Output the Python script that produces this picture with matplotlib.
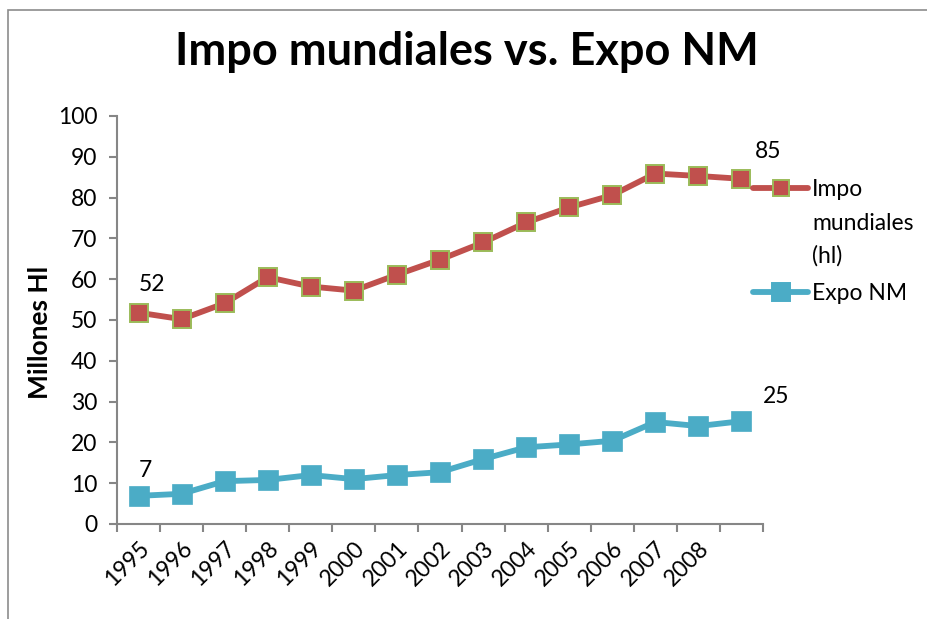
import matplotlib
matplotlib.use("Agg")
import matplotlib.pyplot as plt
from matplotlib.lines import Line2D
from matplotlib.patches import Rectangle

plt.rcParams['font.family'] = ['Lato', 'DejaVu Sans']

# ---- data ----
categories = ["1995", "1996", "1997", "1998", "1999", "2000", "2001", "2002",
              "2003", "2004", "2005", "2006", "2007", "2008", ""]
impo_mundiales = [51.8, 50.2, 54.1, 60.5, 58.2, 57.2, 61.1, 64.8, 69.0, 73.9,
                  77.6, 80.6, 85.9, 85.3, 84.6]
expo_nm = [6.9, 7.4, 10.5, 10.8, 12.0, 11.0, 12.0, 12.7, 15.9, 18.8,
           19.5, 20.4, 25.0, 24.0, 25.2]
impo_labels = {0: "52", 14: "85"}
expo_labels = {0: "7", 14: "25"}
title = "Impo mundiales vs. Expo NM"
ylabel = "Millones Hl"
legend_impo_lines = ["Impo", "mundiales", "(hl)"]
legend_expo = "Expo NM"

RED = "#c0504d"
BLUE = "#4bacc6"
GREEN = "#9bbb59"
AXC = "#868686"

W, H = 927, 619
fig = plt.figure(figsize=(W / 100, H / 100), dpi=100)

def fx(px):
    return px / W

def fy(py):
    return 1 - py / H

# outer border
fig.add_artist(Rectangle((fx(8), fy(640)), 1.2, fy(10) - fy(640), transform=fig.transFigure,
                         fill=False, edgecolor="#8c8c8c", linewidth=1.2))

ax = fig.add_axes([fx(117), fy(524), fx(763) - fx(117), fy(116) - fy(524)])
x = list(range(len(categories)))

ax.plot(x, impo_mundiales, color=RED, linewidth=4.2, marker="s", markersize=12.5,
        markerfacecolor=RED, markeredgecolor=GREEN, markeredgewidth=1.4, zorder=3,
        solid_capstyle="round")
ax.plot(x, expo_nm, color=BLUE, linewidth=4.2, marker="s", markersize=14,
        markerfacecolor=BLUE, markeredgecolor=BLUE, markeredgewidth=0.5, zorder=3,
        solid_capstyle="round")

impo_off = {0: (10, 20), 14: (19, 20)}
expo_off = {0: (5, 18), 14: (25, 18)}
for i, t in impo_labels.items():
    ax.annotate(t, (x[i], impo_mundiales[i]), xytext=impo_off[i], textcoords="offset points",
                fontsize=16.5, ha="center", va="center")
for i, t in expo_labels.items():
    ax.annotate(t, (x[i], expo_nm[i]), xytext=expo_off[i],
                textcoords="offset points", fontsize=16.5, ha="center", va="center")

ax.set_xlim(-0.5, len(categories) - 0.5)
ax.set_ylim(0, 100)
ax.set_yticks(range(0, 101, 10))
ax.tick_params(axis="y", direction="out", length=6, width=1.5, color=AXC, labelsize=16.5, pad=8)

ax.set_xticks(x)
ax.set_xticklabels(categories, rotation=45, ha="right", rotation_mode="anchor", fontsize=16.5)
ax.set_xticks([i - 0.5 for i in range(len(categories) + 1)], minor=True)
ax.tick_params(axis="x", which="major", length=0, pad=10)
ax.tick_params(axis="x", which="minor", direction="out", length=6, width=1.5, color=AXC)

for s in ["top", "right"]:
    ax.spines[s].set_visible(False)
for s in ["left", "bottom"]:
    ax.spines[s].set_color(AXC)
    ax.spines[s].set_linewidth(1.5)

ax.set_ylabel(ylabel, fontsize=19, fontweight="bold", labelpad=4)
ax.yaxis.set_label_coords(-0.1, 0.47)

fig.text(fx(467), fy(52), title, fontsize=32.5, fontweight="bold", ha="center", va="center")

# legend
for yy, col, fc, ec, ms in [(188, RED, RED, GREEN, 12), (292, BLUE, BLUE, BLUE, 13)]:
    fig.add_artist(Line2D([fx(753), fx(808)], [fy(yy), fy(yy)], transform=fig.transFigure,
                          color=col, linewidth=4.2, solid_capstyle="round"))
    fig.add_artist(Line2D([fx(781)], [fy(yy)], transform=fig.transFigure, marker="s",
                          markersize=ms, markerfacecolor=fc, markeredgecolor=ec,
                          markeredgewidth=1.4, linestyle="none"))
for k, line in enumerate(legend_impo_lines):
    fig.text(fx(812), fy(188 + 33 * k), line, fontsize=16.5, ha="left", va="center_baseline")
fig.text(fx(812), fy(292), legend_expo, fontsize=16.5, ha="left", va="center_baseline")

fig.savefig("out.png", dpi=100)
